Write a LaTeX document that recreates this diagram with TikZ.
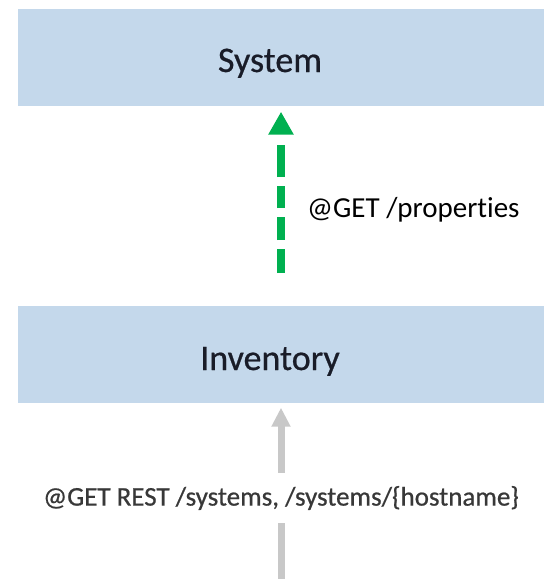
\documentclass[tikz,border=0pt]{standalone}
\usepackage{fontspec}
\setmainfont{Carlito}[Ligatures=NoCommon]
\newfontfamily\thickfont{Carlito}[Ligatures=NoCommon, FakeBold=0.6]
\usetikzlibrary{arrows.meta}
\definecolor{boxblue}{RGB}{196,216,235}
\definecolor{okgreen}{RGB}{0,176,80}
\definecolor{lightgrey}{RGB}{200,200,200}
\definecolor{boxtext}{RGB}{25,28,40}
\tikzset{
  boxnode/.style={rectangle, fill=boxblue, draw=none, inner sep=0pt,
    minimum width=526pt, minimum height=97pt},
  boxlabel/.style={inner sep=0pt, text=boxtext, font=\thickfont\fontsize{36}{40}\selectfont},
  greenarrow/.style={draw=okgreen, line width=8pt,
    dash pattern=on 24pt off 9pt on 23pt off 9pt on 22pt off 9pt on 32pt off 20pt,
    -{Triangle[length=23pt,width=24pt,fill=okgreen]}},
  greyarrow/.style={draw=lightgrey, line width=7pt,
    -{Triangle[length=19pt,width=18pt,fill=lightgrey]}},
  greyline/.style={draw=lightgrey, line width=7pt},
}
\begin{document}
\begin{tikzpicture}[x=1pt,y=-1pt]
\useasboundingbox (0,0) rectangle (544,579);
\fill[white] (0,0) rectangle (544,579);
% boxes
\node[boxnode] (sys) at (281,57) {};
\node[boxlabel, anchor=base] (syslbl) at (270,72) {System};
\node[boxnode] (inv) at (281,354) {};
\node[boxlabel, anchor=base] (invlbl) at (270,370) {Inventory};
% green dashed arrow
\coordinate (gstart) at (281,273);
\draw[greenarrow, shorten >=6pt] (gstart) -- (sys.south -| gstart);
\node[anchor=base west, inner sep=0pt, font=\fontsize{29}{32}\selectfont] (glbl) at (307,217) {@GET /propert{}ies};
% grey arrow with label
\node[inner sep=0pt, minimum height=50pt, text=black!78, font=\thickfont\fontsize{27}{30}\selectfont] (rest) at (281,498) {@GET REST /systems, /systems/\{hostname\}};
\coordinate (gbot) at (281,579);
\draw[greyline] (gbot) -- (rest.south -| gbot);
\draw[greyarrow, shorten >=5pt] (rest.north -| gbot) -- (inv.south -| gbot);
\end{tikzpicture}
\end{document}
